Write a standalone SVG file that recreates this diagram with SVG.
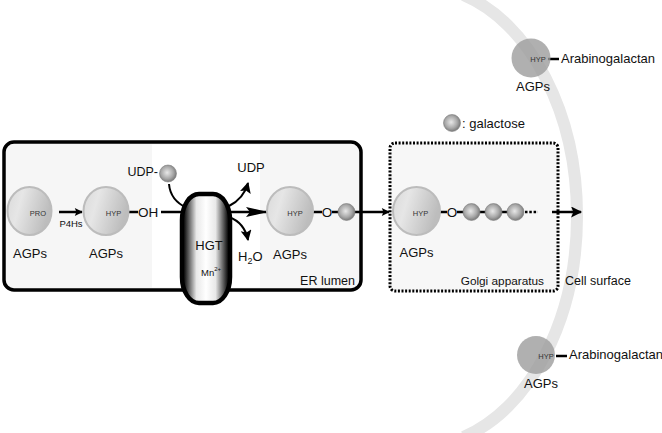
<svg xmlns="http://www.w3.org/2000/svg" width="662" height="433" viewBox="0 0 662 433">
<defs>
  <linearGradient id="agpFill" x1="0" y1="0" x2="1" y2="0.3">
    <stop offset="0" stop-color="#d9d9d9"/>
    <stop offset="0.35" stop-color="#e6e6e6"/>
    <stop offset="1" stop-color="#bdbdbd"/>
  </linearGradient>
  <radialGradient id="galFill" cx="0.45" cy="0.45" r="0.6">
    <stop offset="0" stop-color="#e8e8e8"/>
    <stop offset="0.6" stop-color="#a8a8a8"/>
    <stop offset="1" stop-color="#6e6e6e"/>
  </radialGradient>
  <linearGradient id="hgtFill" x1="0" y1="0" x2="1" y2="0">
    <stop offset="0" stop-color="#000"/>
    <stop offset="0.07" stop-color="#222"/>
    <stop offset="0.3" stop-color="#e8e8e8"/>
    <stop offset="0.5" stop-color="#ffffff"/>
    <stop offset="0.7" stop-color="#e8e8e8"/>
    <stop offset="0.93" stop-color="#222"/>
    <stop offset="1" stop-color="#000"/>
  </linearGradient>
  <marker id="ahS" viewBox="0 0 10 10" refX="9" refY="5" markerUnits="userSpaceOnUse" markerWidth="9" markerHeight="8" orient="auto">
    <path d="M0,0 L10,5 L0,10 L2,5 Z" fill="#000"/>
  </marker>
  <marker id="ahM" viewBox="0 0 10 10" refX="9" refY="5" markerUnits="userSpaceOnUse" markerWidth="13" markerHeight="11" orient="auto">
    <path d="M0,0 L10,5 L0,10 L2,5 Z" fill="#000"/>
  </marker>
  <marker id="ahL" viewBox="0 0 22 10" refX="21" refY="5" markerUnits="userSpaceOnUse" markerWidth="22" markerHeight="10" orient="auto">
    <path d="M0,0 L22,5 L0,10 L4,5 Z" fill="#000"/>
  </marker>
  <style>
    text { font-family: "Liberation Sans", Arial, Helvetica, sans-serif; fill: #111; }
    .lbl { font-size: 13px; }
    .res { font-size: 7.5px; fill: #333; }
    .agp { fill: url(#agpFill); stroke: #bcbcbc; stroke-width: 2; }
    .gal { fill: url(#galFill); stroke: #808080; stroke-width: 0.6; }
    .surf { fill: #9c9c9c; fill-opacity: 0.8; }
    .ln { stroke: #000; stroke-width: 2.5; fill: none; }
    .cv { stroke: #000; stroke-width: 2; fill: none; }
  </style>
</defs>

<!-- cell surface arc -->
<path d="M 463.5 -5 A 157 230 0 0 1 463.5 437" fill="none" stroke="#e6e6e6" stroke-width="12"/>

<!-- compartments -->
<g id="er-lumen">
  <rect x="4" y="142" width="357" height="148" rx="10" fill="#f6f6f6" stroke="#000" stroke-width="3.5"/>
  <rect x="152" y="144.5" width="108" height="143" fill="#ffffff"/>
  <text class="lbl" x="355" y="285" text-anchor="end" style="font-size:12.5px">ER lumen</text>
</g>
<g id="golgi">
  <rect x="390" y="143" width="168" height="148" rx="5" fill="#f7f7f7" stroke="#000" stroke-width="3" stroke-dasharray="2 1.6"/>
  <text class="lbl" x="544" y="285" text-anchor="end" style="font-size:11.8px">Golgi apparatus</text>
</g>
<text id="cell-surface" class="lbl" x="565" y="285" style="font-size:12.5px">Cell surface</text>

<!-- legend -->
<g id="legend">
  <circle class="gal" cx="452" cy="123" r="8.5"/>
  <text class="lbl" x="462" y="127.5">: galactose</text>
</g>

<!-- connectors -->
<g id="connectors">
  <line class="ln" x1="59" y1="212" x2="82" y2="212" marker-end="url(#ahS)"/>
  <line class="ln" x1="122" y1="212" x2="138" y2="212"/>
  <line class="ln" x1="161" y1="212" x2="186" y2="212"/>
  <line class="ln" x1="230" y1="212" x2="267" y2="212" marker-end="url(#ahL)"/>
  <line class="ln" x1="302" y1="212" x2="322" y2="212"/>
  <line class="ln" x1="332" y1="212" x2="339" y2="212"/>
  <line class="ln" x1="354" y1="212" x2="389" y2="212" marker-end="url(#ahS)"/>
  <line class="ln" x1="428" y1="212" x2="447" y2="212"/>
  <line class="ln" x1="457" y1="212" x2="464" y2="212"/>
  <line class="ln" x1="479" y1="212" x2="486" y2="212"/>
  <line class="ln" x1="501" y1="212" x2="508" y2="212"/>
  <line x1="525" y1="212" x2="538" y2="212" stroke="#000" stroke-width="2.5" stroke-dasharray="2.5 1.8"/>
  <line class="ln" x1="552" y1="212" x2="581" y2="212" marker-end="url(#ahM)"/>
  <path class="cv" d="M 169 184 C 170 196, 176 203, 187 208"/>
  <path class="cv" d="M 229 206 C 239 201, 245 194, 248 183" marker-end="url(#ahM)"/>
  <path class="cv" d="M 229 217 C 240 221, 246 230, 248 240" marker-end="url(#ahM)"/>
  <line class="ln" x1="548" y1="59" x2="559" y2="59"/>
  <line class="ln" x1="556" y1="356" x2="567" y2="356"/>
</g>

<!-- nodes -->
<g id="agp-pro">
  <ellipse class="agp" cx="29.5" cy="211" rx="22" ry="24"/>
  <text class="res" x="38" y="215.5" text-anchor="middle">PRO</text>
  <text class="lbl" x="30" y="258" text-anchor="middle">AGPs</text>
</g>
<text id="p4hs" x="71" y="227" text-anchor="middle" style="font-size:9.5px">P4Hs</text>
<g id="agp-hyp-oh">
  <ellipse class="agp" cx="106" cy="211" rx="22.5" ry="24"/>
  <text class="res" x="113.5" y="215.5" text-anchor="middle">HYP</text>
  <text class="lbl" x="148" y="217" text-anchor="middle" style="font-size:13.5px">OH</text>
  <text class="lbl" x="106" y="258" text-anchor="middle">AGPs</text>
</g>
<g id="udp-gal">
  <text class="lbl" x="158" y="176" text-anchor="end" style="font-size:12.5px">UDP-</text>
  <circle class="gal" cx="168" cy="173.5" r="8.5"/>
</g>
<g id="hgt">
  <rect x="182" y="194" width="48" height="109" rx="17" ry="26" fill="url(#hgtFill)" stroke="#000" stroke-width="4.5"/>
  <text class="lbl" x="209" y="250" text-anchor="middle">HGT</text>
  <text x="201" y="276" style="font-size:9.5px">Mn<tspan dy="-5" style="font-size:6px">2+</tspan></text>
</g>
<text id="udp" class="lbl" x="251" y="172" text-anchor="middle">UDP</text>
<text id="h2o" class="lbl" x="238" y="261">H<tspan dy="3" style="font-size:9px">2</tspan><tspan dy="-3">O</tspan></text>
<g id="agp-er-gal">
  <ellipse class="agp" cx="290" cy="211" rx="23" ry="24"/>
  <text class="res" x="295" y="215.5" text-anchor="middle">HYP</text>
  <text class="lbl" x="327" y="217" text-anchor="middle" style="font-size:13.5px">O</text>
  <circle class="gal" cx="346.5" cy="212" r="8.5"/>
  <text class="lbl" x="290" y="259" text-anchor="middle">AGPs</text>
</g>
<g id="agp-golgi">
  <ellipse class="agp" cx="416.5" cy="211" rx="23.5" ry="24"/>
  <text class="res" x="420.5" y="215.5" text-anchor="middle">HYP</text>
  <text class="lbl" x="452" y="217" text-anchor="middle" style="font-size:13.5px">O</text>
  <circle class="gal" cx="471.5" cy="212" r="8.5"/>
  <circle class="gal" cx="493.5" cy="212" r="8.5"/>
  <circle class="gal" cx="515.5" cy="212" r="8.5"/>
  <text class="lbl" x="416.5" y="257" text-anchor="middle">AGPs</text>
</g>
<g id="agp-surface-top">
  <circle class="surf" cx="531" cy="58" r="19.5"/>
  <text class="res" x="538" y="61.5" text-anchor="middle">HYP</text>
  <text class="lbl" x="561" y="63">Arabinogalactan</text>
  <text class="lbl" x="533" y="91" text-anchor="middle">AGPs</text>
</g>
<g id="agp-surface-bottom">
  <circle class="surf" cx="536" cy="355" r="19"/>
  <text class="res" x="546" y="358.5" text-anchor="middle">HYP</text>
  <text class="lbl" x="569" y="359">Arabinogalactan</text>
  <text class="lbl" x="541" y="388" text-anchor="middle">AGPs</text>
</g>
</svg>
